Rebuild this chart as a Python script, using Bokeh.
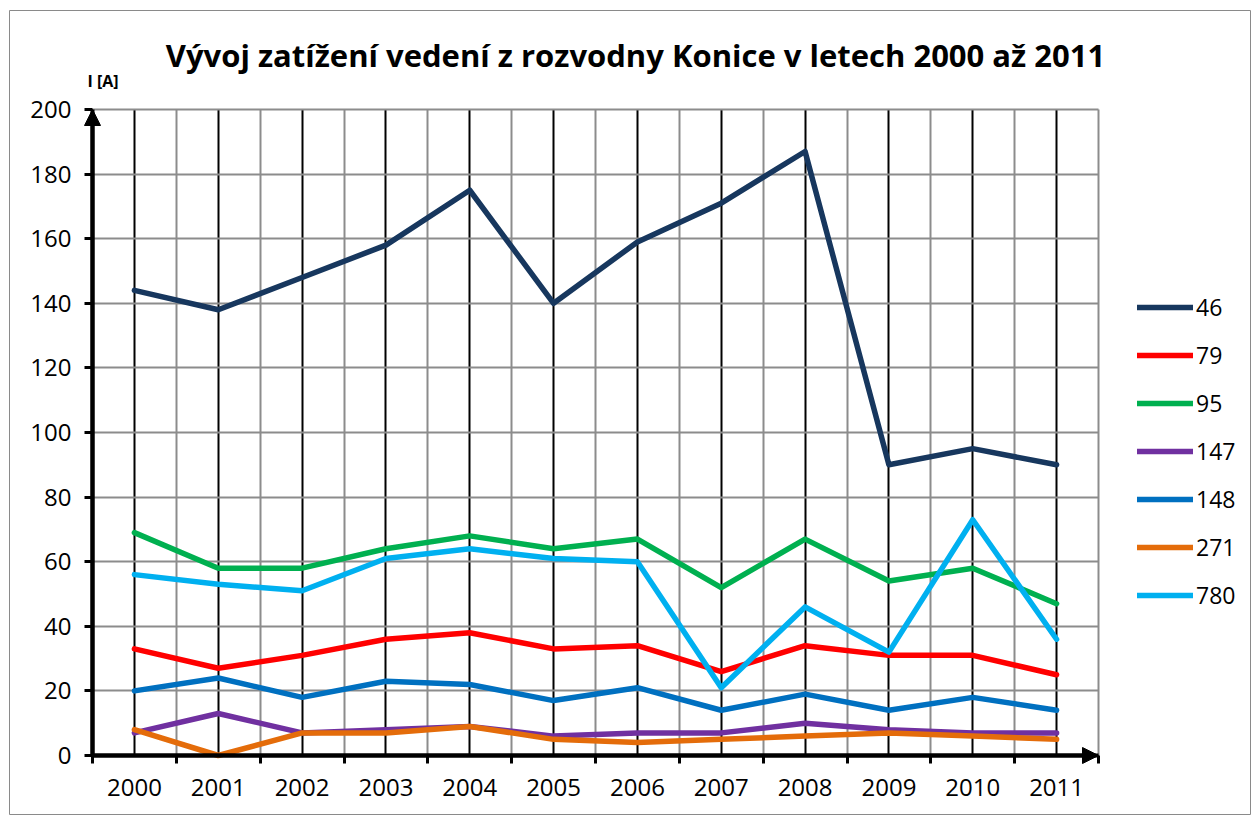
from bokeh.plotting import figure
from bokeh.models import Range1d, FixedTicker, Legend, LegendItem, Label, Arrow, NormalHead
from bokeh.embed import file_html
from bokeh.resources import INLINE

# ---- data ----
years = [2000, 2001, 2002, 2003, 2004, 2005, 2006, 2007, 2008, 2009, 2010, 2011]
s46 = [144, 138, 148, 158, 175, 140, 159, 171, 187, 90, 95, 90]
s79 = [33, 27, 31, 36, 38, 33, 34, 26, 34, 31, 31, 25]
s95 = [69, 58, 58, 64, 68, 64, 67, 52, 67, 54, 58, 47]
s147 = [7, 13, 7, 8, 9, 6, 7, 7, 10, 8, 7, 7]
s148 = [20, 24, 18, 23, 22, 17, 21, 14, 19, 14, 18, 14]
s271 = [8, 0, 7, 7, 9, 5, 4, 5, 6, 7, 6, 5]
s780 = [56, 53, 51, 61, 64, 61, 60, 21, 46, 32, 73, 36]
series_names = ["46", "79", "95", "147", "148", "271", "780"]
series_colors = ["#17375E", "#FF0000", "#00B050", "#7030A0", "#0070C0", "#E46C0A", "#00B0F0"]
y_ticks = [0, 20, 40, 60, 80, 100, 120, 140, 160, 180, 200]
title_text = "Vývoj zatížení vedení z rozvodny Konice v letech 2000 až 2011"
y_label_text = "I [A]"

FONT = "Open Sans"
GRID_GRAY = "#8c8c8c"

# ---- layout (pixels) ----
W, H = 1251, 815
FL, FT, FR, FB = 9, 10, 1250, 815          # chart-area box (outline)
AX_L, AX_R, AX_T, AX_B = 92, 1098, 109, 755  # plot-area box

x0, x1 = years[0] - 0.5, years[-1] + 0.5
y0, y1 = y_ticks[0], y_ticks[-1]
sx = (x1 - x0) / (AX_R - AX_L)
sy = (y1 - y0) / (AX_B - AX_T)
xr = Range1d(x0 - (AX_L - FL) * sx, x1 + (FR - AX_R) * sx)
yr = Range1d(y0 - (FB - AX_B) * sy, y1 + (AX_T - FT) * sy)

p = figure(width=W, height=H, output_backend="svg", toolbar_location=None,
           x_range=xr, y_range=yr,
           min_border_left=FL, min_border_right=W - FR, min_border_top=FT, min_border_bottom=H - FB,
           background_fill_color="white", border_fill_color="white")
p.outline_line_color = "#8a8a8a"
p.outline_line_width = 1

# x axis: labels at year centres, tick marks at category boundaries
boundaries = [yr_ - 0.5 for yr_ in years] + [years[-1] + 0.5]
xt = FixedTicker(ticks=years, minor_ticks=boundaries)
xa = p.xaxis[0]
xa.ticker = xt
xa.fixed_location = y0
xa.bounds = (x0, x1)
xa.major_tick_line_color = None
xa.minor_tick_line_color = "black"
xa.minor_tick_line_width = 3
xa.minor_tick_out = 8
xa.minor_tick_in = 0
xa.axis_line_width = 4
xa.axis_line_color = "black"
xa.major_label_text_font = FONT
xa.major_label_text_font_size = "24px"
xa.major_label_text_color = "black"
xa.major_label_standoff = 15

yt = FixedTicker(ticks=y_ticks, minor_ticks=[])
ya = p.yaxis[0]
ya.ticker = yt
ya.fixed_location = x0
ya.bounds = (y0, y1)
ya.major_tick_line_color = "black"
ya.major_tick_line_width = 3
ya.major_tick_out = 8
ya.major_tick_in = 0
ya.minor_tick_line_color = None
ya.axis_line_width = 4
ya.axis_line_color = "black"
ya.major_label_text_font = FONT
ya.major_label_text_font_size = "24px"
ya.major_label_text_color = "black"
ya.major_label_standoff = 13

xg = p.xgrid[0]
yg = p.ygrid[0]
xg.ticker = xt
yg.ticker = yt
xg.grid_line_color = "black"
xg.grid_line_width = 2
xg.minor_grid_line_color = GRID_GRAY
xg.minor_grid_line_width = 2
yg.grid_line_color = GRID_GRAY
yg.grid_line_width = 2
xg.cross_bounds = (y0, y1)
yg.cross_bounds = (x0, x1)

# series
all_series = [s46, s79, s95, s147, s148, s271, s780]
items = []
for name, col, vals in zip(series_names, series_colors, all_series):
    r = p.line(years, vals, line_color=col, line_width=5.5, line_join="round", line_cap="round")
    items.append(LegendItem(label=name, renderers=[r]))

legend = Legend(items=items, location=(1128, 204), orientation="vertical",
                padding=0, margin=0, spacing=16,
                glyph_width=56, glyph_height=32, label_height=32, label_standoff=3,
                label_text_font=FONT, label_text_font_size="23px", label_text_color="black",
                background_fill_alpha=0, border_line_alpha=0)
p.add_layout(legend, "center")

# axis arrows
p.add_layout(Arrow(end=NormalHead(size=16, fill_color="black", line_color="black", line_width=1),
                   x_start=x0, y_start=y0, x_end=x0, y_end=y1, line_color="black", line_width=4))
p.add_layout(Arrow(end=NormalHead(size=16, fill_color="black", line_color="black", line_width=1),
                   x_start=x0, y_start=y0, x_end=x1, y_end=y0, line_color="black", line_width=4))

# title and unit label
p.add_layout(Label(x=(x0 + x1) / 2, y=y1, x_offset=40, y_offset=55, text=title_text,
                   text_align="center", text_baseline="middle",
                   text_font=FONT, text_font_style="bold", text_font_size="31px",
                   text_color="black"))
p.add_layout(Label(x=x0, y=y1, x_offset=-5, y_offset=29, text=y_label_text,
                   text_align="left", text_baseline="middle",
                   text_font=FONT, text_font_style="bold", text_font_size="16px",
                   text_color="black"))

open("out.html", "w").write(file_html(p, INLINE))
